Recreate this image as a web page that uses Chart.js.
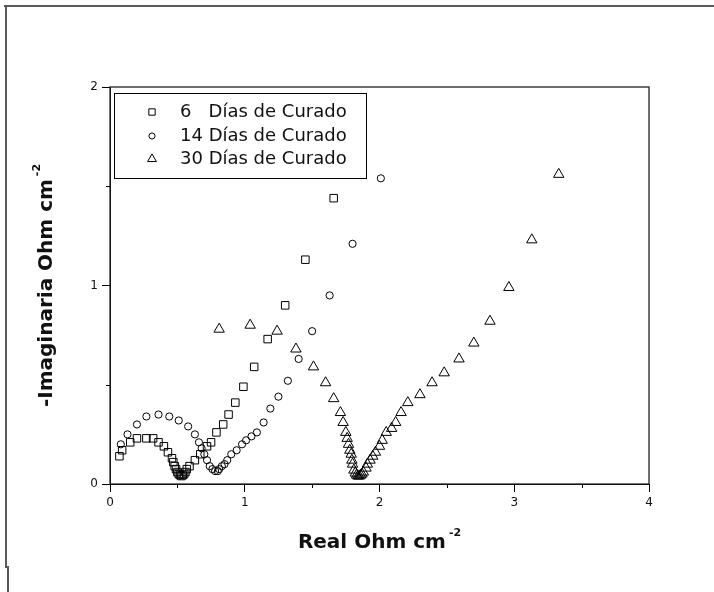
<!DOCTYPE html>
<html><head><meta charset="utf-8">
<script src="https://cdn.jsdelivr.net/npm/chart.js@4.4.1/dist/chart.umd.min.js"></script>
<style>html,body{margin:0;padding:0;background:#fff}#wrap{width:714px;height:592px}</style>
</head><body><div id="wrap"><canvas id="c" width="714" height="592"></canvas></div>
<script>
// ---- data ----
const labels = ["6   Días de Curado", "14 Días de Curado", "30 Días de Curado"];
const xTicks = [0, 1, 2, 3, 4];
const yTicks = [0, 1, 2];

const x6  = [0.07,0.09,0.15,0.20,0.27,0.32,0.36,0.40,0.43,0.46,0.47,0.48,0.49,0.50,0.51,0.52,0.53,0.54,0.55,0.56,0.57,0.59,0.63,0.67,0.72,0.75,0.79,0.84,0.88,0.93,0.99,1.07,1.17,1.30,1.45,1.66];
const y6  = [0.14,0.17,0.21,0.23,0.23,0.23,0.21,0.19,0.16,0.13,0.11,0.09,0.075,0.06,0.05,0.045,0.04,0.045,0.05,0.06,0.075,0.09,0.12,0.15,0.19,0.21,0.26,0.30,0.35,0.41,0.49,0.59,0.73,0.90,1.13,1.44];

const x14 = [0.08,0.13,0.20,0.27,0.36,0.44,0.51,0.58,0.63,0.66,0.68,0.70,0.72,0.74,0.76,0.78,0.80,0.81,0.83,0.85,0.87,0.90,0.94,0.98,1.01,1.05,1.09,1.14,1.19,1.25,1.32,1.40,1.50,1.63,1.80,2.01];
const y14 = [0.20,0.25,0.30,0.34,0.35,0.34,0.32,0.29,0.25,0.21,0.18,0.15,0.12,0.09,0.075,0.065,0.065,0.075,0.09,0.10,0.12,0.15,0.17,0.20,0.22,0.24,0.26,0.31,0.38,0.44,0.52,0.63,0.77,0.95,1.21,1.54];

const x30 = [0.81,1.04,1.24,1.38,1.51,1.60,1.66,1.71,1.73,1.75,1.76,1.77,1.78,1.79,1.795,1.80,1.81,1.82,1.83,1.84,1.85,1.86,1.87,1.88,1.90,1.91,1.93,1.95,1.97,2.00,2.02,2.05,2.09,2.12,2.16,2.21,2.30,2.39,2.48,2.59,2.70,2.82,2.96,3.13,3.33];
const y30 = [0.78,0.80,0.77,0.68,0.59,0.51,0.43,0.36,0.31,0.26,0.23,0.20,0.17,0.15,0.12,0.10,0.07,0.055,0.045,0.04,0.04,0.045,0.05,0.06,0.08,0.10,0.12,0.14,0.16,0.19,0.22,0.26,0.28,0.31,0.36,0.41,0.45,0.51,0.56,0.63,0.71,0.82,0.99,1.23,1.56];

const xTitle = "Real Ohm cm", yTitle = "-Imaginaria Ohm cm", unitSup = "-2";

// ---- build ----
const pts = (xs, ys) => xs.map((x, i) => ({x, y: ys[i]}));
const styles = [
  {pointStyle: 'rect', radius: 5.3},
  {pointStyle: 'circle', radius: 3.6},
  {pointStyle: 'triangle', radius: 6}
];
const series = [pts(x6, y6), pts(x14, y14), pts(x30, y30)];
const datasets = series.map((d, i) => ({
  label: labels[i], data: d, showLine: false,
  pointStyle: styles[i].pointStyle, pointRadius: styles[i].radius,
  pointBorderColor: '#000', pointBackgroundColor: 'rgba(0,0,0,0)', pointBorderWidth: 1,
  pointHoverRadius: styles[i].radius
}));

const FONT = '"DejaVu Sans", Verdana, sans-serif';
const TXT = '#111';

function axisCfg(min, max, ticks, size) {
  return {
    type: 'linear', min, max,
    afterBuildTicks: s => { const t = []; for (let v = min; v <= max + 1e-9; v += 0.5) t.push({value: +v.toFixed(2)}); s.ticks = t; },
    ticks: {
      autoSkip: false, maxRotation: 0, padding: 4, color: TXT,
      font: {family: FONT, size: 12},
      callback: v => ticks.includes(v) ? String(v) : ''
    },
    grid: {
      display: true, drawOnChartArea: false, drawTicks: true, tickLength: 8,
      tickColor: c => (c.tick && Number.isInteger(c.tick.value)) ? '#000' : 'rgba(0,0,0,0)',
      tickWidth: 1
    },
    border: {display: true, color: '#000', width: 1},
    afterFit: s => { if (s.isHorizontal()) s.height = size; else s.width = size; }
  };
}

const decor = {
  id: 'decor',
  afterDraw(chart) {
    const ctx = chart.ctx, a = chart.chartArea, xs = chart.scales.x, ys = chart.scales.y;
    ctx.save();
    // outer page border (top and left)
    ctx.strokeStyle = '#5a5a5a'; ctx.lineWidth = 2;
    ctx.beginPath(); ctx.moveTo(4, 6); ctx.lineTo(714, 6);
    ctx.moveTo(6, 5); ctx.lineTo(6, 568);
    ctx.moveTo(8, 566); ctx.lineTo(8, 592); ctx.stroke();
    // plot frame
    ctx.strokeStyle = '#222'; ctx.lineWidth = 1.3;
    ctx.strokeRect(a.left, a.top, a.right - a.left, a.bottom - a.top);
    // minor ticks
    ctx.strokeStyle = '#000'; ctx.lineWidth = 1;
    ctx.beginPath();
    xs.ticks.forEach(t => { if (!Number.isInteger(t.value)) { const p = Math.round(xs.getPixelForValue(t.value)) + 0.5; ctx.moveTo(p, a.bottom); ctx.lineTo(p, a.bottom + 4); } });
    ys.ticks.forEach(t => { if (!Number.isInteger(t.value)) { const p = Math.round(ys.getPixelForValue(t.value)) + 0.5; ctx.moveTo(a.left, p); ctx.lineTo(a.left - 4, p); } });
    ctx.stroke();
    // axis titles
    const drawTitle = (cx, cy, main, rot) => {
      ctx.save(); ctx.translate(cx, cy); if (rot) ctx.rotate(-Math.PI / 2);
      ctx.fillStyle = TXT; ctx.textAlign = 'left'; ctx.textBaseline = 'alphabetic';
      ctx.font = 'bold 20px ' + FONT; const w1 = ctx.measureText(main).width;
      ctx.font = 'bold 11px ' + FONT; const w2 = ctx.measureText(unitSup).width;
      const tot = w1 + 3 + w2;
      ctx.font = 'bold 20px ' + FONT; ctx.fillText(main, -tot / 2, 7);
      ctx.font = 'bold 11px ' + FONT; ctx.fillText(unitSup, -tot / 2 + w1 + 3, -5);
      ctx.restore();
    };
    drawTitle((a.left + a.right) / 2, 541, xTitle, false);
    drawTitle(45, (a.top + a.bottom) / 2, yTitle, true);
    // legend
    const lx = a.left + 4, ly = a.top + 6, lw = 252, lh = 85;
    ctx.fillStyle = '#fff'; ctx.fillRect(lx, ly, lw, lh);
    ctx.strokeStyle = '#000'; ctx.lineWidth = 1; ctx.strokeRect(lx + 0.5, ly + 0.5, lw, lh);
    const rows = [19, 43, 66];
    chart.data.datasets.forEach((ds, i) => {
      const y = ly + rows[i];
      ctx.fillStyle = 'rgba(0,0,0,0)'; ctx.strokeStyle = '#000'; ctx.lineWidth = 1;
      Chart.helpers.drawPoint(ctx, {pointStyle: ds.pointStyle, radius: ds.pointRadius * 0.85, rotation: 0, borderWidth: 1}, lx + 38, y);
      ctx.fillStyle = TXT; ctx.font = '18px ' + FONT; ctx.textBaseline = 'middle'; ctx.textAlign = 'left';
      ctx.fillText(ds.label, lx + 66, y);
    });
    ctx.restore();
  }
};

new Chart(document.getElementById('c'), {
  type: 'scatter',
  data: {datasets},
  options: {
    responsive: false, animation: false,
    layout: {padding: {top: 87, right: 65, left: 0, bottom: 0}},
    plugins: {legend: {display: false}, tooltip: {enabled: false}},
    scales: {x: axisCfg(0, 4, xTicks, 108), y: axisCfg(0, 2, yTicks, 110)}
  },
  plugins: [decor]
});
</script></body></html>
